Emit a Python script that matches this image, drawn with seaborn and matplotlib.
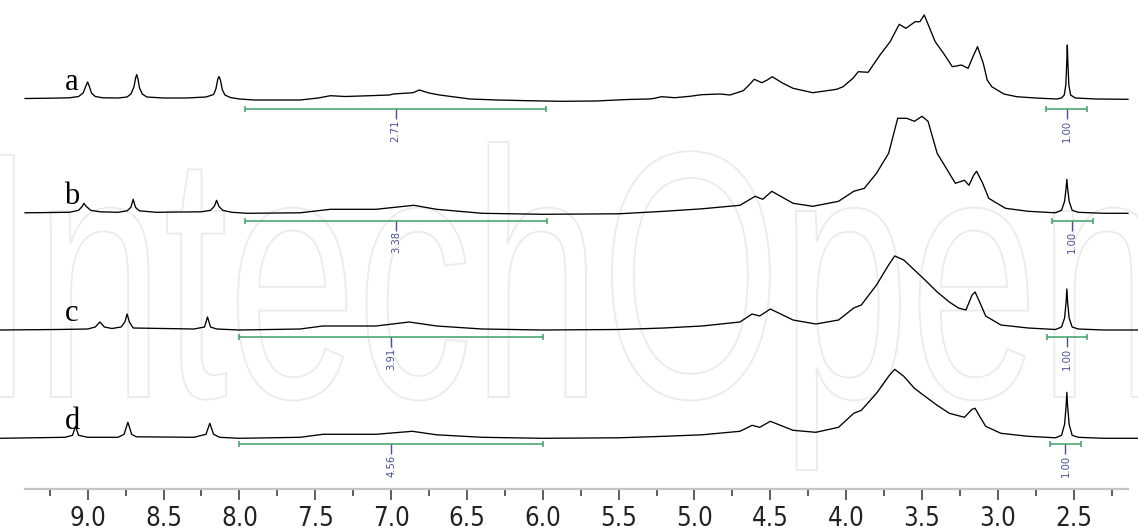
import numpy as np
import pandas as pd
import seaborn as sns
import matplotlib.pyplot as plt
from matplotlib.textpath import TextPath
from matplotlib.patches import PathPatch
from matplotlib.font_manager import FontProperties
from matplotlib.transforms import Affine2D

# chemical shift (ppm) and signal height
a_ppm = [9.413, 9.25, 9.12, 9.06, 9.03, 9.012, 9.00, 8.99, 8.975, 8.95, 8.90, 8.80, 8.74, 8.715, 8.695,
         8.684, 8.677, 8.67, 8.658, 8.64, 8.61, 8.50, 8.35, 8.22, 8.19, 8.17, 8.155, 8.142, 8.134, 8.125,
         8.112, 8.095, 8.06, 8.00, 7.90, 7.75, 7.60, 7.48, 7.40, 7.30, 7.14, 7.01, 6.985, 6.855, 6.814,
         6.75, 6.68, 6.48, 6.30, 6.10, 5.88, 5.65, 5.44, 5.30, 5.27, 5.216, 5.13, 5.03, 4.953, 4.83, 4.766,
         4.678, 4.64, 4.606, 4.556, 4.52, 4.487, 4.42, 4.35, 4.22, 4.063, 4.02, 3.955, 3.92, 3.855, 3.777,
         3.71, 3.65, 3.606, 3.545, 3.514, 3.485, 3.413, 3.358, 3.30, 3.24, 3.196, 3.165, 3.134, 3.096,
         3.07, 3.04, 2.96, 2.876, 2.75, 2.612, 2.58, 2.562, 2.552, 2.546, 2.542, 2.538, 2.532, 2.52, 2.49,
         2.35, 2.142]
a_int = [0.5, 0.8, 1.2, 2.5, 6, 13, 17, 13, 6, 2.5, 1.2, 1, 2, 5, 12,
         21, 24.5, 21, 11, 5, 2, 1, 1, 2, 3.5, 4.5, 10, 20, 22.5, 19,
         9, 4, 1.5, 0, -1, -1, -1, 1, 3.3, 2.5, 3.3, 4, 5, 6.3, 9,
         6, 4, 0, -1, -1.7, -2.3, -2, -0.5, 0, 0.5, 2.3, 1.3, 2.7, 4.3, 5, 4,
         8.3, 14, 19.7, 16.3, 19, 22.3, 16, 10.7, 6.3, 9.7, 12.3, 20.7, 27.3, 26.7, 44,
         57.3, 74.7, 70.7, 77.3, 77.3, 84, 57.3, 45.7, 32.3, 34, 30.7, 42, 52.3, 35.7,
         19, 12.3, 5, 2.3, 1, 0, 1, 4, 14, 35, 54, 35, 14, 4, 1,
         0, -0.3]

b_ppm = [9.413, 9.12, 9.06, 9.035, 9.025, 9.01, 8.98, 8.92, 8.80, 8.74, 8.715, 8.70, 8.685, 8.66, 8.55,
         8.25, 8.19, 8.165, 8.15, 8.135, 8.11, 8.05, 7.95, 7.6, 7.40, 7.1, 6.85, 6.7, 6.4, 6.0, 5.5, 5.2,
         4.95, 4.7, 4.6, 4.55, 4.49, 4.35, 4.22, 4.05, 3.95, 3.88, 3.80, 3.72, 3.66, 3.60, 3.55, 3.50,
         3.46, 3.40, 3.34, 3.28, 3.22, 3.19, 3.16, 3.14, 3.10, 3.06, 2.95, 2.8, 2.62, 2.58, 2.56, 2.55,
         2.545, 2.54, 2.53, 2.51, 2.47, 2.3, 2.142]
b_int = [0.5, 1, 3, 7, 10, 7, 3, 1.5, 1, 2.5, 6, 14, 6, 2.5, 1,
         1.5, 3, 7, 13, 7, 3, 1, 0, 0.5, 4, 4, 8, 4, 0, -1, -0.5, 2,
         4.5, 8, 17, 14, 22, 10, 7, 12, 22, 25, 40, 60, 95, 95, 92, 97,
         92, 60, 45, 30, 33, 28, 38, 42, 30, 15, 5, 2, 0.5, 3, 12, 25,
         34, 25, 12, 3, 1, 0, 0]

c_ppm = [9.578, 9.20, 9.0, 8.95, 8.92, 8.89, 8.84, 8.78, 8.755, 8.74, 8.725, 8.70, 8.3, 8.23, 8.21,
         8.19, 8.15, 8.0, 7.6, 7.45, 7.1, 6.88, 6.7, 6.4, 6.0, 5.5, 5.2, 4.95, 4.7, 4.62, 4.57, 4.50,
         4.35, 4.2, 4.05, 3.95, 3.90, 3.80, 3.72, 3.68, 3.62, 3.55, 3.48, 3.40, 3.32, 3.26, 3.21, 3.17,
         3.15, 3.12, 3.08, 2.98, 2.8, 2.62, 2.58, 2.56, 2.55, 2.545, 2.54, 2.53, 2.51, 2.47, 2.3, 2.076]
c_int = [0, 0.5, 1, 3, 8, 3, 1.5, 3, 8, 16, 8, 2, 1, 3, 13,
         3, 1, 0, 1, 4, 4, 8, 4, 1, 0, 0.5, 2, 4, 8, 16, 14, 21,
         10, 6, 10, 22, 25, 45, 65, 74, 70, 60, 50, 38, 28, 22, 20, 35,
         38, 28, 14, 5, 2, 0.5, 3, 12, 28, 41, 28, 12, 3, 1, 0, 0]

d_ppm = [9.578, 9.15, 9.10, 9.08, 9.06, 9.0, 8.8, 8.76, 8.735, 8.71, 8.68, 8.3, 8.22, 8.195, 8.17, 8.13,
         8.0, 7.6, 7.45, 7.1, 6.86, 6.7, 6.4, 6.0, 5.5, 5.2, 4.95, 4.7, 4.62, 4.57, 4.50, 4.35, 4.2, 4.05,
         3.95, 3.90, 3.80, 3.72, 3.68, 3.62, 3.55, 3.48, 3.40, 3.32, 3.27, 3.22, 3.17, 3.15, 3.12, 3.08,
         2.98, 2.8, 2.62, 2.58, 2.56, 2.55, 2.545, 2.54, 2.53, 2.51, 2.47, 2.3, 2.076]
d_int = [0, 1, 3, 12, 3, 1, 1, 4, 16, 4, 1.5, 1, 4, 15, 4, 1,
         0, 1, 4, 4, 7, 3.5, 1, 0, 0.5, 2, 3.5, 7, 13, 11, 17, 8, 6, 11,
         25, 28, 45, 62, 69, 62, 50, 42, 33, 25, 23, 21, 29, 30, 22, 12,
         5, 2, 0.5, 3, 14, 32, 46, 32, 14, 3, 1, 0, 0]

trace_names = ['a', 'b', 'c', 'd']
# integration regions and values
big_from = [7.96, 7.96, 8.00, 8.00]
big_to = [5.98, 5.97, 6.00, 6.00]
big_values = ['2.71', '3.38', '3.91', '4.56']
small_from = [2.683, 2.646, 2.678, 2.656]
small_to = [2.411, 2.372, 2.414, 2.452]
small_values = ['1.00', '1.00', '1.00', '1.00']
tick_values = [9.0, 8.5, 8.0, 7.5, 7.0, 6.5, 6.0, 5.5, 5.0, 4.5, 4.0, 3.5, 3.0, 2.5]

# layout (pixels, figure is 1138 x 532)
baselines = [390, 275.7, 159, 50.7]
bar_drop = [10.3, 7.4, 7.3, 6.0]
narrow = ['Liberation Sans Narrow', 'DejaVu Sans']

frames = []
for name, p, h, base in zip(trace_names, [a_ppm, b_ppm, c_ppm, d_ppm],
                            [a_int, b_int, c_int, d_int], baselines):
    frames.append(pd.DataFrame({'ppm': p, 'y': np.array(h) + base, 'trace': name}))
df = pd.concat(frames, ignore_index=True)

fig = plt.figure(figsize=(11.38, 5.32), dpi=100)
ax = fig.add_axes([0, 43 / 532, 1, 489 / 532])

# faint watermark
fp = FontProperties(family=['Liberation Sans', 'DejaVu Sans'])
tp = TextPath((0, 0), 'IntechOpen', size=1, prop=fp)
ext = tp.get_extents()
sx = 1160 / ext.width
sy = 252 / 0.716
tr = Affine2D().translate(-ext.x0, 0).scale(sx / 1138, sy / 532).translate(-8 / 1138, (532 - 397) / 532)
wm = PathPatch(tp, transform=tr + fig.transFigure, facecolor='none', edgecolor='#ebebeb',
               linewidth=1.3, zorder=0, clip_on=False)
ax.add_patch(wm)

sns.lineplot(data=df, x='ppm', y='y', units='trace', estimator=None, sort=False,
             color='black', linewidth=0.95, ax=ax, zorder=3)

green = '#3f9f68'
blue = '#4a4f96'
for i, base in enumerate(baselines):
    yb = base - bar_drop[i]
    for lo, hi, val in [(big_from[i], big_to[i], big_values[i]),
                        (small_from[i], small_to[i], small_values[i])]:
        ax.hlines(yb, hi, lo, color=green, linewidth=1.1, zorder=2)
        ax.vlines([lo, hi], yb - 3, yb + 3, color=green, linewidth=1.1, zorder=2)
        mid = (lo + hi) / 2
        ax.vlines(mid, yb - 10, yb, color=blue, linewidth=1.0, zorder=2)
        ax.text(mid, yb - 10.5, val, rotation=90, ha='center', va='top', color=blue,
                fontsize=8, family=narrow, fontstretch='condensed', zorder=2)
    ax.text(9.103, base + 9, trace_names[i], ha='center', va='baseline', fontsize=22,
            family=['Liberation Serif', 'DejaVu Serif'], zorder=3)

ax.set_xlim(9.578, 2.076)
ax.set_ylim(0, 489)
ax.set_xlabel('')
ax.set_ylabel('')
ax.set_yticks([])
for s in ['top', 'left', 'right']:
    ax.spines[s].set_visible(False)
ax.spines['bottom'].set_color('#c4c4c4')
ax.spines['bottom'].set_linewidth(1.6)
ax.spines['bottom'].set_bounds(9.413, 2.142)

ax.set_xticks(tick_values)
ax.set_xticklabels([f'{v:.1f}' for v in tick_values])
ax.set_xticks(np.arange(2.25, 9.3, 0.5), minor=True)
ax.tick_params(axis='x', which='major', direction='out', length=8, width=1.1, color='#333333',
               pad=4, labelsize=18.5, labelcolor='#222222')
ax.tick_params(axis='x', which='minor', direction='out', length=5, width=1.1, color='#333333')
for lab in ax.get_xticklabels():
    lab.set_family(narrow)
    lab.set_stretch('condensed')
ax.patch.set_visible(False)

fig.savefig('out.png', dpi=100)
